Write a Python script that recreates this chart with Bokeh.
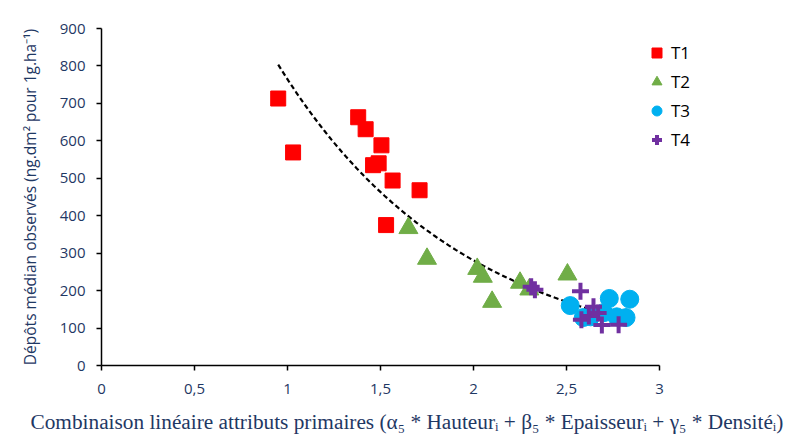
import numpy as np
from bokeh.plotting import figure
from bokeh.models import FixedTicker, Legend, LegendItem, Title
from bokeh.embed import file_html
from bokeh.resources import INLINE

# ---- data ----
t1_x = [0.95, 1.03, 1.38, 1.42, 1.505, 1.46, 1.49, 1.565, 1.71, 1.53]
t1_y = [713, 569, 663, 631, 588, 535, 540, 494, 468, 375]
t2_x = [1.65, 1.75, 2.02, 2.05, 2.10, 2.25, 2.30, 2.505]
t2_y = [367, 285, 258, 237, 170, 221, 203, 243]
t3_x = [2.52, 2.59, 2.63, 2.70, 2.73, 2.77, 2.82, 2.84]
t3_y = [160, 128, 130, 141, 179, 130, 128, 177]
t4_x = [2.31, 2.33, 2.575, 2.58, 2.62, 2.645, 2.67, 2.69, 2.78]
t4_y = [210, 202, 198, 122, 132, 157, 140, 108, 109]

x_ticks = [0, 0.5, 1, 1.5, 2, 2.5, 3]
x_tick_labels = ["0", "0,5", "1", "1,5", "2", "2,5", "3"]
y_ticks = [0, 100, 200, 300, 400, 500, 600, 700, 800, 900]

navy = "#1F3864"

# exponential trend line (least squares on log y, as a spreadsheet trendline)
all_x = np.array(t1_x + t2_x + t3_x + t4_x)
all_y = np.array(t1_y + t2_y + t3_y + t4_y)
b, ln_a = np.polyfit(all_x, np.log(all_y), 1)
fx = np.linspace(all_x.min(), all_x.max(), 100)
fy = np.exp(ln_a) * np.exp(b * fx)

# frame spans 101..771 px; axis drawn only over 0..3
p = figure(width=785, height=444, x_range=(0, 3.602), y_range=(0, 900),
           output_backend="svg", toolbar_location=None,
           min_border_left=101, min_border_right=14, min_border_top=28,
           min_border_bottom=78)
p.outline_line_color = None
p.xgrid.visible = False
p.ygrid.visible = False

p.line(fx, fy, line_color="black", line_width=2.2, line_dash="5 3")

r1 = p.scatter(t1_x, t1_y, marker="square", size=15, fill_color="#FF0000", line_color="#FF0000")
r2 = p.scatter(t2_x, t2_y, marker="triangle", size=19, fill_color="#70AD47", line_color="#70AD47")
r3 = p.scatter(t3_x, t3_y, marker="circle", size=18, fill_color="#00B0F0", line_color="#00B0F0")
r4 = p.scatter(t4_x, t4_y, marker="cross", size=17, fill_color=None, line_color="#7030A0", line_width=4)

for ax in (p.xaxis[0], p.yaxis[0]):
    ax.axis_line_color = "black"
    ax.axis_line_width = 1.5
    ax.major_tick_line_color = "black"
    ax.major_tick_line_width = 1.5
    ax.major_tick_in = 0
    ax.major_tick_out = 5
    ax.minor_tick_line_color = None
    ax.major_label_text_color = navy
    ax.major_label_text_font = "Open Sans"
    ax.major_label_text_font_size = "15px"

p.xaxis.bounds = (0, 3)
p.xaxis.ticker = FixedTicker(ticks=x_ticks)
p.xaxis.major_label_overrides = {t: l for t, l in zip(x_ticks, x_tick_labels)}
p.xaxis.major_label_standoff = 13
p.yaxis.ticker = FixedTicker(ticks=y_ticks)
p.yaxis.major_label_standoff = 11

p.yaxis.axis_label = "Dépôts médian observés (ng.dm² pour 1g.ha⁻¹)"
p.yaxis.axis_label_text_font = "Open Sans"
p.yaxis.axis_label_text_font_style = "normal"
p.yaxis.axis_label_text_font_size = "15.5px"
p.yaxis.axis_label_text_color = navy
p.yaxis.axis_label_standoff = 16

xt = Title(text="Combinaison linéaire attributs primaires (α₅ * Hauteurᵢ  +  β₅ * Epaisseurᵢ +  γ₅ * Densitéᵢ)",
           align="left", offset=-71, text_color=navy, text_font="Liberation Serif",
           text_font_size="21.3px", text_font_style="normal", standoff=22)
p.add_layout(xt, "below")

legend = Legend(items=[LegendItem(label="T1", renderers=[r1]),
                       LegendItem(label="T2", renderers=[r2]),
                       LegendItem(label="T3", renderers=[r3]),
                       LegendItem(label="T4", renderers=[r4])],
                location=(543, 213), orientation="vertical")
legend.border_line_color = None
legend.background_fill_alpha = 0
legend.label_text_font = "Open Sans"
legend.label_text_font_size = "17px"
legend.label_text_color = "black"
legend.spacing = 4
legend.glyph_width = 25
legend.glyph_height = 25
legend.label_standoff = 2
legend.padding = 0
legend.margin = 0
p.add_layout(legend)

open("out.html", "w").write(file_html(p, INLINE))
